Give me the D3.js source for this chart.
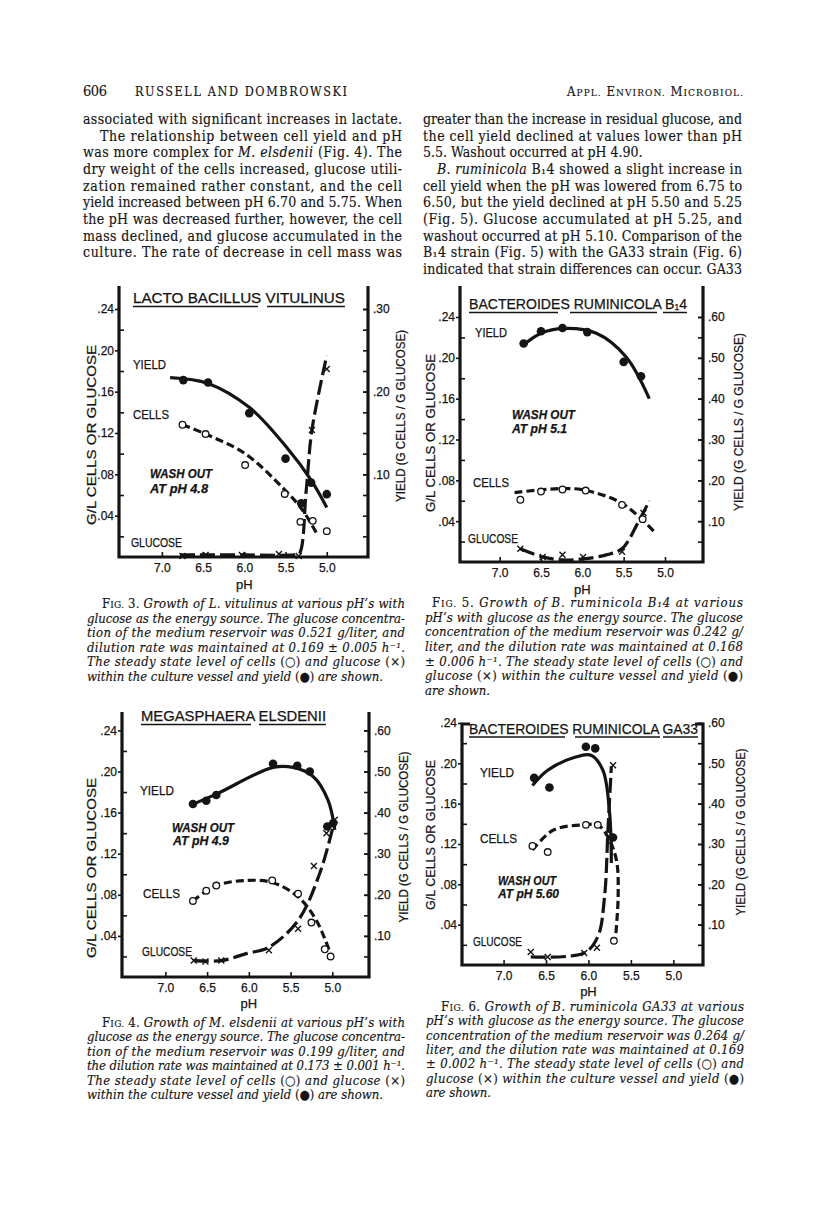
<!DOCTYPE html>
<html>
<head>
<meta charset="utf-8">
<script src="https://cdn.jsdelivr.net/npm/d3@7"></script>
<style>
  body { margin: 0; background: #fff; }
  svg text { fill: #141414; white-space: pre; }
  .body { font-family: "DejaVu Serif Condensed", "Liberation Serif", serif; font-size: 14px; stroke: #141414; stroke-width: 0.15px; }
  .cap { font-family: "DejaVu Serif Condensed", "Liberation Serif", serif; font-size: 13px; stroke: #141414; stroke-width: 0.15px; }
  .chart text { font-family: "Liberation Sans", Arial, sans-serif; stroke: #141414; stroke-width: 0.25px; }
</style>
</head>
<body>
<svg id="page" width="816" height="1208"></svg>
<script>
// ---- data (pH, value) ----
// yield values are in the right-hand axis units, cells and glucose in the left-hand (g/L)
const phTicks = [7.0, 6.5, 6.0, 5.5, 5.0];
const leftMajor = [0.04, 0.08, 0.12, 0.16, 0.20, 0.24];
const leftMinor = [0.02, 0.06, 0.10, 0.14, 0.18, 0.22];
const fig3RightTicks = [0.025, 0.05, 0.075, 0.10, 0.125, 0.15, 0.175, 0.20, 0.225, 0.25, 0.275, 0.30];
const fig3RightLabels = [0.10, 0.20, 0.30];
const rightTicks60 = [0.05, 0.10, 0.15, 0.20, 0.25, 0.30, 0.35, 0.40, 0.45, 0.50, 0.55, 0.60];
const rightLabels60 = [0.10, 0.20, 0.30, 0.40, 0.50, 0.60];

// Fig. 3  L. vitulinus
const fig3Yield = [[6.74, .214], [6.44, .211], [5.94, .174], [5.50, .119], [5.31, .065], [5.19, .090], [5.00, .076]];
const fig3YieldFit = [[6.90, .217], [6.44, .210], [5.94, .181], [5.49, .133], [5.19, .093], [5.00, .060]];
const fig3Cells = [[6.75, .128], [6.47, .119], [5.99, .089], [5.51, .061], [5.32, .034], [5.17, .035], [5.00, .025]];
const fig3CellsFit = [[6.75, .128], [6.47, .119], [5.99, .100], [5.51, .065], [5.29, .045], [5.11, .021]];
const fig3Glucose = [[6.75, .001], [6.47, .002], [6.03, .002], [5.58, .003], [5.34, .001], [5.18, .123], [5.00, .182]];
const fig3GlucoseFit = [[6.78, .002], [6.00, .002], [5.40, .002], [5.335, .003], [5.25, .064], [5.18, .123], [5.00, .195]];

// Fig. 5  B. ruminicola B14
const fig5Yield = [[6.71, .535], [6.50, .565], [6.24, .573], [5.94, .563], [5.50, .490], [5.29, .455]];
const fig5YieldFit = [[6.72, .530], [6.50, .560], [6.23, .572], [5.83, .560], [5.47, .502], [5.19, .400]];
const fig5Cells = [[6.75, .061], [6.50, .069], [6.24, .071], [5.96, .070], [5.52, .056], [5.27, .042]];
const fig5CellsFit = [[6.82, .068], [6.24, .072], [5.95, .070], [5.51, .057], [5.11, .028]];
const fig5Glucose = [[6.75, .013], [6.48, .005], [6.24, .007], [5.99, .005], [5.52, .010], [5.26, .048]];
const fig5GlucoseFit = [[6.75, .013], [6.48, .005], [6.24, .002], [5.99, .003], [5.71, .007], [5.52, .013], [5.33, .038], [5.19, .060]];

// Fig. 4  M. elsdenii
const fig4Yield = [[6.67, .421], [6.51, .429], [6.39, .443], [5.71, .519], [5.42, .514], [5.27, .500], [5.06, .366], [4.99, .374]];
const fig4YieldFit = [[6.70, .418], [6.39, .445], [5.71, .510], [5.47, .510], [5.23, .488], [5.05, .430], [4.97, .358]];
const fig4Cells = [[6.67, .074], [6.51, .084], [6.39, .089], [5.72, .094], [5.41, .081], [5.25, .053], [5.09, .027], [5.02, .020]];
const fig4CellsFit = [[6.67, .074], [6.39, .089], [6.02, .094], [5.72, .092], [5.41, .078], [5.19, .055], [5.01, .020]];
const fig4Glucose = [[6.66, .016], [6.52, .015], [6.33, .016], [5.76, .026], [5.41, .047], [5.22, .108], [5.07, .140], [4.97, .153]];
const fig4GlucoseFit = [[6.66, .016], [6.33, .016], [6.02, .023], [5.76, .029], [5.41, .055], [5.15, .101], [4.97, .153]];

// Fig. 6  B. ruminicola GA33
const fig6Yield = [[6.64, .464], [6.46, .440], [6.03, .541], [5.92, .537], [5.71, .316]];
const fig6YieldFit = [[6.66, .445], [6.48, .483], [6.16, .515], [5.97, .520], [5.83, .483], [5.75, .375], [5.73, .253]];
const fig6Cells = [[6.66, .118], [6.48, .112], [6.03, .139], [5.89, .139], [5.70, .024]];
const fig6CellsFit = [[6.66, .114], [6.41, .134], [6.03, .139], [5.89, .139], [5.77, .127], [5.67, .104], [5.65, .068], [5.68, .028]];
const fig6Glucose = [[6.68, .013], [6.48, .008], [6.05, .012], [5.90, .017], [5.71, .198]];
const fig6GlucoseFit = [[6.68, .008], [6.05, .012], [5.89, .028], [5.81, .068], [5.77, .134], [5.73, .197]];

// ---- page text ( _ toggles italic/upright, ~ toggles small caps ) ----
const bodyLeft = [
  "associated with significant increases in lactate.",
  "The relationship between cell yield and pH",
  "was more complex for _M. elsdenii_ (Fig. 4). The",
  "dry weight of the cells increased, glucose utili-",
  "zation remained rather constant, and the cell",
  "yield increased between pH 6.70 and 5.75. When",
  "the pH was decreased further, however, the cell",
  "mass declined, and glucose accumulated in the",
  "culture. The rate of decrease in cell mass was"
];
const bodyRight = [
  "greater than the increase in residual glucose, and",
  "the cell yield declined at values lower than pH",
  "5.5. Washout occurred at pH 4.90.",
  "_B. ruminicola_ B₁4 showed a slight increase in",
  "cell yield when the pH was lowered from 6.75 to",
  "6.50, but the yield declined at pH 5.50 and 5.25",
  "(Fig. 5). Glucose accumulated at pH 5.25, and",
  "washout occurred at pH 5.10. Comparison of the",
  "B₁4 strain (Fig. 5) with the GA33 strain (Fig. 6)",
  "indicated that strain differences can occur. GA33"
];
const caption3 = [
  "_F~IG.~ 3._ Growth of L. vitulinus at various pH’s with",
  "glucose as the energy source. The glucose concentra-",
  "tion of the medium reservoir was 0.521 g/liter, and",
  "dilution rate was maintained at 0.169 ± 0.005 h⁻¹.",
  "The steady state level of cells _(○)_ and glucose _(×)_",
  "within the culture vessel and yield _(●)_ are shown."
];
const caption5 = [
  "_F~IG.~ 5._ Growth of B. ruminicola B₁4 at various",
  "pH’s with glucose as the energy source. The glucose",
  "concentration of the medium reservoir was 0.242 g/",
  "liter, and the dilution rate was maintained at 0.168",
  "± 0.006 h⁻¹. The steady state level of cells _(○)_ and",
  "glucose _(×)_ within the culture vessel and yield _(●)_",
  "are shown."
];
const caption4 = [
  "_F~IG.~ 4._ Growth of M. elsdenii at various pH’s with",
  "glucose as the energy source. The glucose concentra-",
  "tion of the medium reservoir was 0.199 g/liter, and",
  "the dilution rate was maintained at 0.173 ± 0.001 h⁻¹.",
  "The steady state level of cells _(○)_ and glucose _(×)_",
  "within the culture vessel and yield _(●)_ are shown."
];
const caption6 = [
  "_F~IG.~ 6._ Growth of B. ruminicola GA33 at various",
  "pH’s with glucose as the energy source. The glucose",
  "concentration of the medium reservoir was 0.264 g/",
  "liter, and the dilution rate was maintained at 0.169",
  "± 0.002 h⁻¹. The steady state level of cells _(○)_ and",
  "glucose _(×)_ within the culture vessel and yield _(●)_",
  "are shown."
];

const svg = d3.select("#page");

function segs(str, italic) {
  const out = [];
  let it = italic, sc = false, buf = "";
  for (const ch of str) {
    if (ch === "_" || ch === "~") {
      if (buf) out.push({ t: buf, it, sc });
      buf = "";
      if (ch === "_") it = !it; else sc = !sc;
    } else buf += ch;
  }
  if (buf) out.push({ t: buf, it, sc });
  return out;
}

function writeLine(x, y, str, cls, italic, width, scSize) {
  const t = svg.append("text").attr("class", cls).attr("x", x).attr("y", y);
  segs(str, italic).forEach(s => {
    const sp = t.append("tspan").text(s.t).style("font-style", s.it ? "italic" : "normal");
    if (s.sc) sp.style("font-size", scSize + "px");
  });
  if (width) t.attr("textLength", width).attr("lengthAdjust", "spacing");
  return t;
}

// running head
writeLine(83, 96, "606", "body", false, 24).style("font-size", "14.5px");
writeLine(135, 96, "RUSSELL AND DOMBROWSKI", "body", false, 212).style("font-size", "12.5px");
writeLine(567, 96, "A~PPL.~ E~NVIRON.~ M~ICROBIOL.~", "body", false, 176, 10).style("font-size", "13px");

// body columns
bodyLeft.forEach((s, i) => {
  const ind = i === 1 ? 17 : 0;
  writeLine(83 + ind, 124 + i * 16.65, s, "body", false, 319 - ind);
});
bodyRight.forEach((s, i) => {
  const ind = i === 3 ? 14 : 0;
  writeLine(423 + ind, 124 + i * 16.65, s, "body", false, i === 2 ? null : 319 - ind);
});

// captions
function caption(lines, x, y0, lh, w, firstIndent) {
  lines.forEach((s, i) => {
    const ind = i === 0 ? firstIndent : 0;
    const last = i === lines.length - 1;
    writeLine(x + ind, y0 + i * lh, s, "cap", true, last ? null : w - ind, 10);
  });
}
caption(caption3, 87, 608, 14.55, 318, 15);
caption(caption5, 425, 607, 14.65, 318, 7);
caption(caption4, 87, 1027, 14.4, 318, 15);
caption(caption6, 426, 1011, 14.3, 318, 15);

// ---- charts ----
const figs = [
  {
    left: 119, right: 368, bottom: 557, top: 286, yTop: 309, ph: [7.52, 4.5], rMax: 0.30,
    rTicks: fig3RightTicks, rLabels: fig3RightLabels,
    yieldPts: fig3Yield, yieldFit: fig3YieldFit, cellPts: fig3Cells, cellFit: fig3CellsFit,
    gluPts: fig3Glucose, gluFit: fig3GlucoseFit,
    title: { t: "LACTO BACILLUS VITULINUS", x: 133, w: 212, y: 303, ul: 306.5, lines: [[133, 258], [267, 345]] },
    notes: [["YIELD", 133, 369, 33], ["CELLS", 133, 419, 36], ["GLUCOSE", 131, 547, 51]],
    wash: [["WASH OUT", 150, 478, 62], ["AT pH 4.8", 150, 493, 58]],
    lLab: [96, 435, 180], rLab: [405, 416, 172], phY: 589
  },
  {
    left: 460, right: 703, bottom: 562, top: 286, yTop: 317, ph: [7.48, 4.54], rMax: 0.60,
    rTicks: rightTicks60, rLabels: rightLabels60,
    yieldPts: fig5Yield, yieldFit: fig5YieldFit, cellPts: fig5Cells, cellFit: fig5CellsFit,
    gluPts: fig5Glucose, gluFit: fig5GlucoseFit,
    title: { t: "BACTEROIDES RUMINICOLA B₁4", x: 469, w: 218, y: 309, ul: 312.5, lines: [[469, 558], [570, 657], [663, 687]] },
    notes: [["YIELD", 475, 337, 32], ["CELLS", 473, 487, 36], ["GLUCOSE", 468, 543, 50]],
    wash: [["WASH OUT", 512, 419, 63], ["AT pH 5.1", 512, 433, 55]],
    lLab: [435, 433, 158], rLab: [743, 422, 178], phY: 594
  },
  {
    left: 122, right: 369, bottom: 977, top: 712, yTop: 730.4, ph: [7.52, 4.56], rMax: 0.60,
    rTicks: rightTicks60, rLabels: rightLabels60,
    yieldPts: fig4Yield, yieldFit: fig4YieldFit, cellPts: fig4Cells, cellFit: fig4CellsFit,
    gluPts: fig4Glucose, gluFit: fig4GlucoseFit,
    title: { t: "MEGASPHAERA ELSDENII", x: 141, w: 185, y: 721, ul: 724.5, lines: [[141, 251], [259, 326]] },
    notes: [["YIELD", 140, 795, 34], ["CELLS", 143, 898, 37], ["GLUCOSE", 142, 956, 50]],
    wash: [["WASH OUT", 172, 832, 62], ["AT pH 4.9", 173, 845, 56]],
    lLab: [96, 868, 180], rLab: [408, 837, 171], phY: 1008
  },
  {
    left: 462, right: 703, bottom: 965, top: 724, yTop: 723, ph: [7.49, 4.65], rMax: 0.60,
    rTicks: rightTicks60, rLabels: rightLabels60, bracket: true,
    yieldPts: fig6Yield, yieldFit: fig6YieldFit, cellPts: fig6Cells, cellFit: fig6CellsFit,
    gluPts: fig6Glucose, gluFit: fig6GlucoseFit,
    title: { t: "BACTEROIDES RUMINICOLA GA33", x: 469, w: 229, y: 734, ul: 737, lines: [[469, 565], [575, 660], [663, 698]] },
    notes: [["YIELD", 480, 777, 34], ["CELLS", 480, 843, 37], ["GLUCOSE", 473, 946, 49]],
    wash: [["WASH OUT", 498, 885, 58], ["AT pH 5.60", 498, 898, 61]],
    lLab: [435, 835, 150], rLab: [745, 832, 167], phY: 996
  }
];

const fmt = d => d3.format(".2f")(d).replace(/^0/, "");

function styleAxis(sel) {
  sel.select(".domain").remove();
  sel.selectAll("line").attr("stroke", "#141414").attr("stroke-width", 1.6);
  sel.selectAll("text").attr("font-family", "Liberation Sans, Arial, sans-serif")
    .attr("font-size", 12).attr("fill", "#141414");
}

function drawFig(f) {
  const g = svg.append("g").attr("class", "chart");
  const x = d3.scaleLinear().domain(f.ph).range([f.left, f.right]);
  const yL = d3.scaleLinear().domain([0, 0.24]).range([f.bottom, f.yTop]);
  const yR = d3.scaleLinear().domain([0, f.rMax]).range([f.bottom, f.yTop]);

  g.append("g").attr("transform", `translate(${f.left},0)`)
    .call(d3.axisLeft(yL).tickValues(leftMajor).tickSize(4).tickPadding(1).tickFormat(fmt)).call(styleAxis);
  g.append("g").attr("transform", `translate(${f.left},0)`)
    .call(d3.axisLeft(yL).tickValues(leftMinor).tickSize(-5).tickFormat("")).call(styleAxis);
  g.append("g").attr("transform", `translate(${f.right},0)`)
    .call(d3.axisRight(yR).tickValues(f.rTicks).tickSize(-5).tickFormat("")).call(styleAxis);
  g.append("g").attr("transform", `translate(${f.right},0)`)
    .call(d3.axisRight(yR).tickValues(f.rLabels).tickSize(-5).tickPadding(5).tickFormat(fmt)).call(styleAxis);
  g.append("g").attr("transform", `translate(0,${f.bottom})`)
    .call(d3.axisBottom(x).tickValues(phTicks).tickSize(-5).tickPadding(6).tickFormat(d3.format(".1f"))).call(styleAxis);

  // heavy frame
  const frame = d3.path();
  if (f.bracket) { frame.moveTo(f.left + 8, f.top); frame.lineTo(f.left, f.top); }
  else frame.moveTo(f.left, f.top);
  frame.lineTo(f.left, f.bottom);
  frame.lineTo(f.right, f.bottom);
  frame.lineTo(f.right, f.top);
  if (f.bracket) frame.lineTo(f.right - 8, f.top);
  g.append("path").attr("d", frame.toString()).attr("fill", "none")
    .attr("stroke", "#141414").attr("stroke-width", 3.2).attr("stroke-linejoin", "miter");

  // axis titles
  g.append("text").attr("transform", `translate(${f.lLab[0]},${f.lLab[1]}) rotate(-90)`)
    .attr("text-anchor", "middle").attr("font-size", 13).attr("textLength", f.lLab[2])
    .attr("lengthAdjust", "spacingAndGlyphs").text("G/L CELLS OR GLUCOSE");
  g.append("text").attr("transform", `translate(${f.rLab[0]},${f.rLab[1]}) rotate(-90)`)
    .attr("text-anchor", "middle").attr("font-size", 13).attr("textLength", f.rLab[2])
    .attr("lengthAdjust", "spacingAndGlyphs").text("YIELD (G CELLS / G GLUCOSE)");
  g.append("text").attr("x", x(6.0)).attr("y", f.phY).attr("text-anchor", "middle")
    .attr("font-size", 13).text("pH");

  // title with word underlines
  g.append("text").attr("x", f.title.x).attr("y", f.title.y).attr("font-size", 14.5)
    .attr("textLength", f.title.w).attr("lengthAdjust", "spacingAndGlyphs").text(f.title.t);
  f.title.lines.forEach(([a, b]) => {
    g.append("line").attr("x1", a).attr("x2", b).attr("y1", f.title.ul).attr("y2", f.title.ul)
      .attr("stroke", "#141414").attr("stroke-width", 1.5);
  });

  // in-plot labels
  f.notes.forEach(([t, a, b, w]) => {
    g.append("text").attr("x", a).attr("y", b).attr("font-size", 12)
      .attr("textLength", w).attr("lengthAdjust", "spacingAndGlyphs").text(t);
  });
  f.wash.forEach(([t, a, b, w]) => {
    g.append("text").attr("x", a).attr("y", b).attr("font-size", 12.5)
      .attr("font-style", "italic").attr("font-weight", "bold")
      .attr("textLength", w).attr("lengthAdjust", "spacingAndGlyphs").text(t);
  });

  // fitted curves
  const lineL = d3.line().x(d => x(d[0])).y(d => yL(d[1])).curve(d3.curveCatmullRom.alpha(0.5));
  const lineR = d3.line().x(d => x(d[0])).y(d => yR(d[1])).curve(d3.curveCatmullRom.alpha(0.5));
  const curve = (d, ln, dash) => g.append("path").attr("d", ln(d)).attr("fill", "none")
    .attr("stroke", "#141414").attr("stroke-width", 3.2).attr("stroke-dasharray", dash);
  curve(f.yieldFit, lineR, null);
  curve(f.cellFit, lineL, "8,4");
  curve(f.gluFit, lineL, "15,5");

  // observations
  g.selectAll(null).data(f.yieldPts).join("circle")
    .attr("cx", d => x(d[0])).attr("cy", d => yR(d[1])).attr("r", 4.3).attr("fill", "#141414");
  g.selectAll(null).data(f.cellPts).join("circle")
    .attr("cx", d => x(d[0])).attr("cy", d => yL(d[1])).attr("r", 3.3)
    .attr("fill", "#fff").attr("stroke", "#141414").attr("stroke-width", 1.3);
  g.selectAll(null).data(f.gluPts).join("path")
    .attr("transform", d => `translate(${x(d[0])},${yL(d[1])})`)
    .attr("d", "M-3,-3L3,3M-3,3L3,-3").attr("stroke", "#141414").attr("stroke-width", 1.4);
}

figs.forEach(drawFig);
</script>
</body>
</html>
